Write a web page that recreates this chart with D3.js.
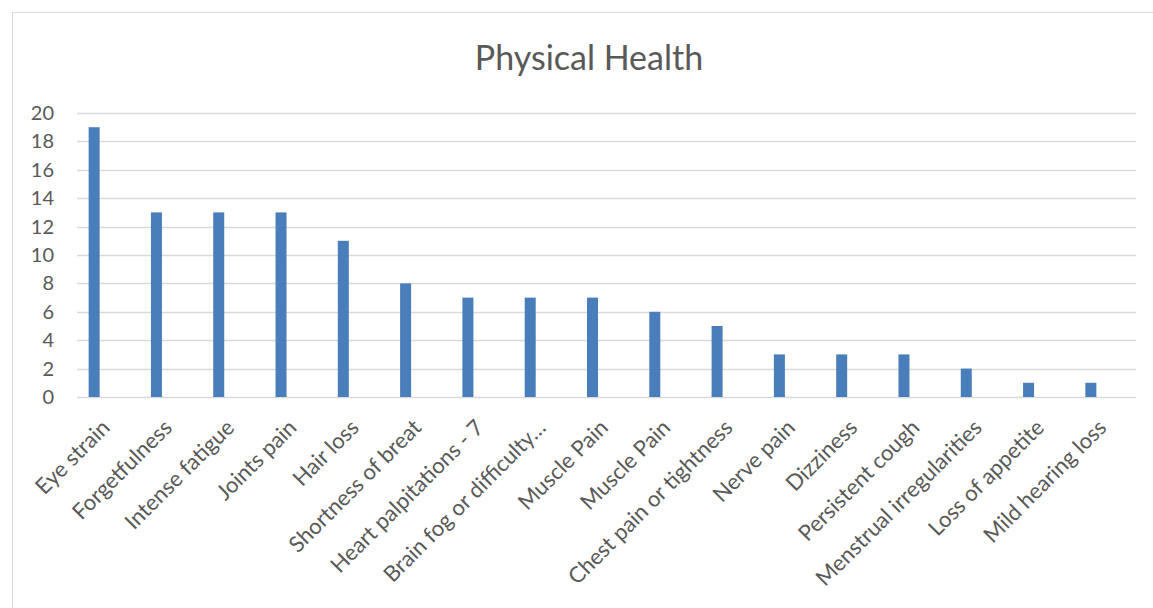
<!DOCTYPE html>
<html>
<head>
<meta charset="utf-8">
<script src="https://cdn.jsdelivr.net/npm/d3@7"></script>
<style>
  body { margin: 0; background: #fff; }
  svg { font-family: Lato, "Open Sans", sans-serif; }
  .axis text { fill: #595959; }
  .chart-title { fill: #595959; }
</style>
</head>
<body>
<svg id="chart"></svg>
<script>
// Data
const categories = ['Eye strain', 'Forgetfulness', 'Intense fatigue', 'Joints pain', 'Hair loss',
  'Shortness of breat', 'Heart palpitations - 7', 'Brain fog or difficulty\u2026', 'Muscle Pain',
  'Muscle Pain ', 'Chest pain or tightness', 'Nerve pain', 'Dizziness', 'Persistent cough',
  'Menstrual irregularities', 'Loss of appetite', 'Mild hearing loss'];
const counts = [19, 13, 13, 13, 11, 8, 7, 7, 7, 6, 5, 3, 3, 3, 2, 1, 1];
const yTicks = [0, 2, 4, 6, 8, 10, 12, 14, 16, 18, 20];

const data = categories.map((c, i) => ({ key: c, count: counts[i] }));

const config = {
  containerWidth: 1153,
  containerHeight: 608,
  margin: { top: 113, right: 17, bottom: 211, left: 77 }
};

const width = config.containerWidth - config.margin.left - config.margin.right;
const height = config.containerHeight - config.margin.top - config.margin.bottom;

const svg = d3.select('#chart')
  .attr('width', config.containerWidth)
  .attr('height', config.containerHeight);

// outer chart frame
svg.append('rect')
  .attr('x', 12.5).attr('y', 12.5)
  .attr('width', config.containerWidth)
  .attr('height', config.containerHeight)
  .attr('fill', 'none')
  .attr('stroke', '#d9d9d9');

const chart = svg.append('g')
  .attr('transform', `translate(${config.margin.left},${config.margin.top})`);

const xScale = d3.scaleBand()
  .domain(categories)
  .range([0, width]);

const yScale = d3.scaleLinear()
  .domain([0, 20])
  .range([height, 0]);

// gridlines
chart.append('g')
  .selectAll('line')
  .data(yTicks)
  .join('line')
    .attr('x1', 0)
    .attr('x2', width)
    .attr('y1', d => Math.round(yScale(d)) + 0.5)
    .attr('y2', d => Math.round(yScale(d)) + 0.5)
    .attr('stroke', '#d9d9d9')
    .attr('stroke-width', 1.3);

// bars sit left of band centre (Excel cluster slot)
const barWidth = 11;
chart.selectAll('.bar')
  .data(data)
  .join('rect')
    .attr('class', 'bar')
    .attr('x', d => xScale(d.key) + xScale.bandwidth() * 0.5 - 19.5)
    .attr('width', barWidth)
    .attr('y', d => yScale(d.count))
    .attr('height', d => height - yScale(d.count))
    .attr('fill', '#4a7ebb');

// y axis labels
const yAxis = d3.axisLeft(yScale)
  .tickValues(yTicks)
  .tickSize(0)
  .tickPadding(23);
chart.append('g')
  .attr('class', 'axis y-axis')
  .call(yAxis)
  .attr('font-family', null)
  .call(g => g.select('.domain').remove())
  .selectAll('text')
    .style('font-size', '20px');

// x axis labels, rotated
const xAxis = d3.axisBottom(xScale).tickSize(0).tickPadding(0);
chart.append('g')
  .attr('class', 'axis x-axis')
  .attr('transform', `translate(0,${height})`)
  .call(xAxis)
  .attr('font-family', null)
  .call(g => g.select('.domain').remove())
  .selectAll('text')
    .style('font-size', '22px')
    .style('text-anchor', 'end')
    .attr('y', 0)
    .attr('dy', 0)
    .attr('transform', 'translate(3,32) rotate(-45)');

svg.append('text')
  .attr('class', 'chart-title')
  .attr('x', 589)
  .attr('y', 70)
  .attr('text-anchor', 'middle')
  .style('font-size', '34px')
  .text('Physical Health');
</script>
</body>
</html>
